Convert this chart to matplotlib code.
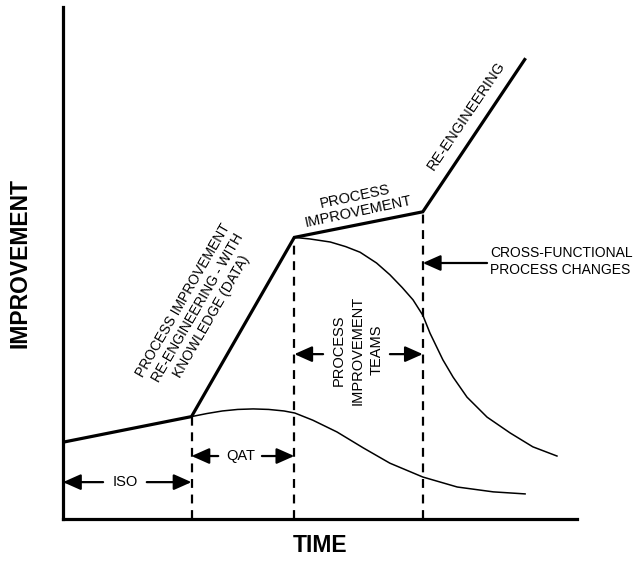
import matplotlib.pyplot as plt

plt.rcParams["font.family"] = ["Liberation Sans", "DejaVu Sans"]

# main improvement path (time, improvement)
main_t = [0, 25, 45, 70, 90]
main_imp = [15, 20, 55, 60, 90]

# phase boundaries (dashed verticals) and the height they reach
phase_t = [25, 45, 70]
phase_top = [20, 55, 60]

# decay curve after the ISO/QAT gains
low_t = [25, 28, 31, 34, 37, 40, 43, 45.1, 48.6, 53.3, 58.4, 63.6, 70, 76.7, 83.7, 89.9]
low_imp = [20, 20.6, 21.1, 21.4, 21.5, 21.4, 21.1, 20.7, 19.3, 17.0, 13.9, 10.9, 8.2, 6.25, 5.3, 4.9]

# decay curve after the re-engineering gain
high_t = [45, 48, 52, 55, 57.8, 61, 63.6, 66, 68.1, 70, 71.4, 73.9, 75.9, 78.6, 82.5, 87, 91.4, 96.1]
high_imp = [55, 54.7, 54.1, 53.2, 52.1, 50.0, 47.7, 45.2, 42.8, 39.8, 36.3, 31.1, 27.7, 23.8, 19.9, 16.8, 14.1, 12.3]

# span arrows: label, left end, right end, height, label centre, gap ends
spans = [
    ("ISO", 0, 25, 7.2, 12.2, 7.8, 16.3),
    ("QAT", 25, 45, 12.3, 34.6, 30.2, 38.7),
]

fig = plt.figure(figsize=(6.37, 5.61), dpi=100)
ax = fig.add_axes([63 / 637, 42 / 561, 514 / 637, 512 / 561])
ax.set_xlim(0, 100)
ax.set_ylim(0, 100)
ax.spines["top"].set_visible(False)
ax.spines["right"].set_visible(False)
ax.spines["left"].set_linewidth(2.3)
ax.spines["bottom"].set_linewidth(2.3)
ax.set_xticks([])
ax.set_yticks([])

ax.plot(main_t, main_imp, color="black", lw=2.3, solid_capstyle="butt", solid_joinstyle="miter", zorder=3)
ax.plot(low_t, low_imp, color="black", lw=1.1)
ax.plot(high_t, high_imp, color="black", lw=1.1)

for t, top in zip(phase_t, phase_top):
    ax.plot([t, t], [0, top], color="black", lw=1.6, linestyle=(0, (4, 3)))

arrow = dict(arrowstyle="-|>,head_length=0.9,head_width=0.4", color="black", lw=1.6,
             shrinkA=0, shrinkB=0, mutation_scale=12)

for label, left, right, y, xc, gap_l, gap_r in spans:
    ax.annotate("", xy=(left, y), xytext=(gap_l, y), arrowprops=arrow)
    ax.annotate("", xy=(right, y), xytext=(gap_r, y), arrowprops=arrow)
    ax.text(xc, y, label, ha="center", va="center", fontsize=10.5)

# process improvement teams span
ax.annotate("", xy=(45, 32.2), xytext=(50.6, 32.2), arrowprops=arrow)
ax.annotate("", xy=(70, 32.2), xytext=(63.6, 32.2), arrowprops=arrow)
ax.text(57.4, 33, "PROCESS\nIMPROVEMENT\nTEAMS", rotation=90, ha="center", va="center",
        fontsize=10.5, linespacing=1.45)

# cross-functional changes
ax.annotate("", xy=(70, 50), xytext=(82.5, 50), arrowprops=arrow)
ax.text(83.1, 50.3, "CROSS-FUNCTIONAL\nPROCESS CHANGES", ha="left", va="center",
        fontsize=10, linespacing=1.35)

# labels along the main path
ax.text(26.2, 41.2, "PROCESS IMPROVEMENT\nRE-ENGINEERING - WITH\nKNOWLEDGE (DATA)",
        rotation=60, rotation_mode="anchor", ha="center", va="center", fontsize=10, linespacing=1.2)
ax.text(57.2, 61.5, "PROCESS\nIMPROVEMENT", rotation=12, rotation_mode="anchor",
        ha="center", va="center", fontsize=10.5, linespacing=1.15)
ax.text(78.4, 78.8, "RE-ENGINEERING", rotation=56, rotation_mode="anchor",
        ha="center", va="center", fontsize=10.5)

fig.text(20 / 637, 1 - 263 / 561, "IMPROVEMENT", rotation=90, ha="center", va="center",
         fontsize=16.5, fontweight="bold")
fig.text(320 / 637, 1 - 546 / 561, "TIME", ha="center", va="center", fontsize=16.5, fontweight="bold")

fig.savefig("out.png", dpi=100)
